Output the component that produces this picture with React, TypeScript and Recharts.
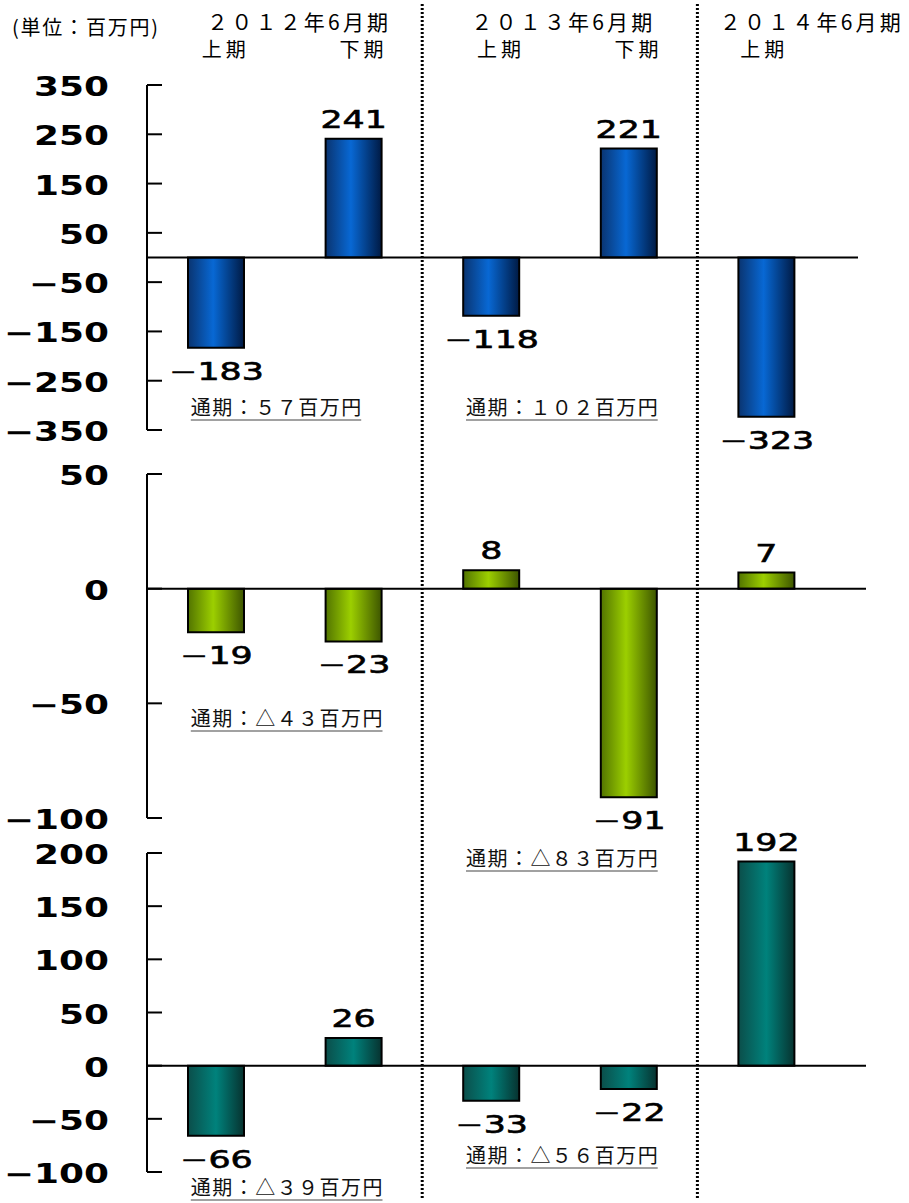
import React from 'react';
import { BarChart, Bar, XAxis, YAxis, ReferenceLine, LabelList } from 'recharts';

// ─── Data ─────────────────────────────────────────────────────────────────────

const periodLabels = ['上期', '下期', '上期', '下期', '上期'];
const fiscalYearOf = [0, 0, 1, 1, 2];
const fiscalYears = ['２０１２年6月期', '２０１３年6月期', '２０１４年6月期'];

const upperValues = [-183, 241, -118, 221, -323];
const middleValues = [-19, -23, 8, -91, 7];
const lowerValues = [-66, 26, -33, -22, 192];

const upperTicks = [350, 250, 150, 50, -50, -150, -250, -350];
const middleTicks = [50, 0, -50, -100];
const lowerTicks = [200, 150, 100, 50, 0, -50, -100];

const upperNotes = ['通期：５７百万円', '通期：１０２百万円'];
const middleNotes = ['通期：△４３百万円', '通期：△８３百万円'];
const lowerNotes = ['通期：△３９百万円', '通期：△５６百万円'];

const unitLabel = '(単位：百万円)';

const rows = periodLabels.map((period, i) => ({
  key: i,
  period,
  upper: upperValues[i],
  middle: middleValues[i],
  lower: lowerValues[i],
}));

// ─── Layout ───────────────────────────────────────────────────────────────────

const AXIS_X = 147;
const BAND = 137.6;
const JP = '"Noto Sans CJK JP", "Noto Sans CJK SC", sans-serif';
const NUM = '"DejaVu Sans", Verdana, sans-serif';

// ─── Ticks & labels ───────────────────────────────────────────────────────────

function YTick(props: any) {
  const { y, payload } = props;
  const v = payload.value as number;
  const txt = v < 0 ? `−${Math.abs(v)}` : String(v);
  return (
    <g>
      <line x1={AXIS_X} x2={AXIS_X + 15} y1={y} y2={y} stroke="#000" strokeWidth={2} />
      <g transform={`translate(${AXIS_X - 38},${y + 11}) scale(1.38,1)`}>
        <text textAnchor="end" fontFamily={NUM} fontWeight="bold" fontSize={26} fill="#000">
          {txt}
        </text>
      </g>
    </g>
  );
}

function PeriodTick(props: any) {
  const { x, index } = props;
  const fy = fiscalYearOf[index];
  const first = index === 0 || fiscalYearOf[index - 1] !== fy;
  const paired = fiscalYearOf.filter((f) => f === fy).length > 1;
  // year caption sits over its half-year pair; the last (single) one hangs to the right
  const yearX = paired ? x + BAND / 2 + (index === 0 ? 13 : 2) : x + 44;
  return (
    <g>
      <text
        x={x + (paired ? 8 : -4)}
        y={57}
        textAnchor="middle"
        fontFamily={JP}
        fontSize={20}
        fill="#000"
        textLength={44}
        lengthAdjust="spacing"
      >
        {periodLabels[index]}
      </text>
      {first && (
        <text
          x={yearX}
          y={30}
          textAnchor="middle"
          fontFamily={JP}
          fontSize={21}
          fill="#000"
          textLength={181}
          lengthAdjust="spacing"
        >
          {fiscalYears[fy]}
        </text>
      )}
    </g>
  );
}

function ValueLabel(props: any) {
  const { x, y, width, height, value } = props;
  const top = Math.min(y, y + height);
  const bottom = Math.max(y, y + height);
  const neg = value < 0;
  const by = neg ? bottom + 32 : top - 11;
  return (
    <g transform={`translate(${x + width / 2},${by}) scale(1.45,1)`}>
      <text textAnchor="middle" fontFamily={NUM} fontSize={24} fill="#000" stroke="#000" strokeWidth={0.6}>
        {neg && <tspan strokeWidth={0}>−</tspan>}
        {Math.abs(value)}
      </text>
    </g>
  );
}

// ─── Panel ────────────────────────────────────────────────────────────────────

interface PanelProps {
  top: number;
  height: number;
  width: number;
  marginTop: number;
  marginBottom: number;
  dataKey: 'upper' | 'middle' | 'lower';
  ticks: number[];
  gradId: string;
  stops: [string, string][];
  header?: boolean;
}

function Panel({ top, height, width, marginTop, marginBottom, dataKey, ticks, gradId, stops, header }: PanelProps) {
  const domain = [Math.min(...ticks), Math.max(...ticks)];
  return (
    <div style={{ position: 'absolute', left: 0, top, width, height }}>
      <BarChart
        width={width}
        height={height}
        data={rows}
        margin={{ top: marginTop, right: 0, bottom: marginBottom, left: 0 }}
      >
        <defs>
          <linearGradient id={gradId} x1="0" y1="0" x2="1" y2="0">
            {stops.map(([off, c]) => (
              <stop key={off} offset={off} stopColor={c} />
            ))}
          </linearGradient>
        </defs>
        <XAxis
          dataKey="key"
          type="category"
          orientation="top"
          hide={!header}
          height={header ? 85 : 0}
          axisLine={false}
          tickLine={false}
          interval={0}
          tick={<PeriodTick />}
          padding={{ left: 0, right: width - AXIS_X - BAND * 5 }}
        />
        <YAxis
          type="number"
          domain={domain}
          ticks={ticks}
          interval={0}
          allowDataOverflow
          width={AXIS_X}
          tickSize={0}
          tickMargin={0}
          tickLine={false}
          axisLine={{ stroke: '#000', strokeWidth: 2 }}
          tick={<YTick />}
        />
        <ReferenceLine y={0} stroke="#000" strokeWidth={2} />
        <Bar
          dataKey={dataKey}
          fill={`url(#${gradId})`}
          stroke="#000"
          strokeWidth={2}
          barSize={56}
          isAnimationActive={false}
        >
          <LabelList dataKey={dataKey} content={<ValueLabel />} />
        </Bar>
      </BarChart>
    </div>
  );
}

// ─── Notes overlay ────────────────────────────────────────────────────────────

function Note({ text, x, y }: { text: string; x: number; y: number }) {
  const len = text.length * 21.3;
  return (
    <g>
      <text x={x} y={y} fontFamily={JP} fontSize={20} fill="#111" textLength={len} lengthAdjust="spacing">
        {text}
      </text>
      <line x1={x} x2={x + len} y1={y + 5} y2={y + 5} stroke="#444" strokeWidth={1.2} />
    </g>
  );
}

const noteX = (i: number) => AXIS_X + (i + 0.5) * BAND - 25;

export default function App() {
  return (
    <div style={{ position: 'absolute', left: 0, top: 0, width: 909, height: 1203, background: '#fff' }}>
      <style>{'.recharts-surface{overflow:visible}'}</style>
      <Panel
        top={0}
        height={450}
        width={858}
        marginTop={0}
        marginBottom={20}
        dataKey="upper"
        ticks={upperTicks}
        gradId="gradBlue"
        stops={[
          ['0%', '#0a3470'],
          ['45%', '#0868d4'],
          ['100%', '#001a44'],
        ]}
        header
      />
      <Panel
        top={440}
        height={400}
        width={866}
        marginTop={34}
        marginBottom={22}
        dataKey="middle"
        ticks={middleTicks}
        gradId="gradGreen"
        stops={[
          ['0%', '#527400'],
          ['45%', '#9ccf00'],
          ['100%', '#3d5500'],
        ]}
      />
      <Panel
        top={815}
        height={388}
        width={866}
        marginTop={38}
        marginBottom={31}
        dataKey="lower"
        ticks={lowerTicks}
        gradId="gradTeal"
        stops={[
          ['0%', '#0b4e4a'],
          ['50%', '#00827c'],
          ['100%', '#07322f'],
        ]}
      />
      <svg
        width={909}
        height={1203}
        style={{ position: 'absolute', left: 0, top: 0, pointerEvents: 'none' }}
      >
        <text x={12} y={35} fontFamily={JP} fontSize={20} fill="#000" textLength={146} lengthAdjust="spacing">
          {unitLabel}
        </text>
        {[2, 4].map((i) => (
          <line
            key={i}
            x1={AXIS_X + i * BAND}
            x2={AXIS_X + i * BAND}
            y1={4}
            y2={1198}
            stroke="#000"
            strokeWidth={3}
            strokeDasharray="2 2"
          />
        ))}
        <Note text={upperNotes[0]} x={noteX(0)} y={415} />
        <Note text={upperNotes[1]} x={noteX(2)} y={415} />
        <Note text={middleNotes[0]} x={noteX(0)} y={726} />
        <Note text={middleNotes[1]} x={noteX(2)} y={866} />
        <Note text={lowerNotes[0]} x={noteX(0)} y={1195} />
        <Note text={lowerNotes[1]} x={noteX(2)} y={1163} />
      </svg>
    </div>
  );
}
